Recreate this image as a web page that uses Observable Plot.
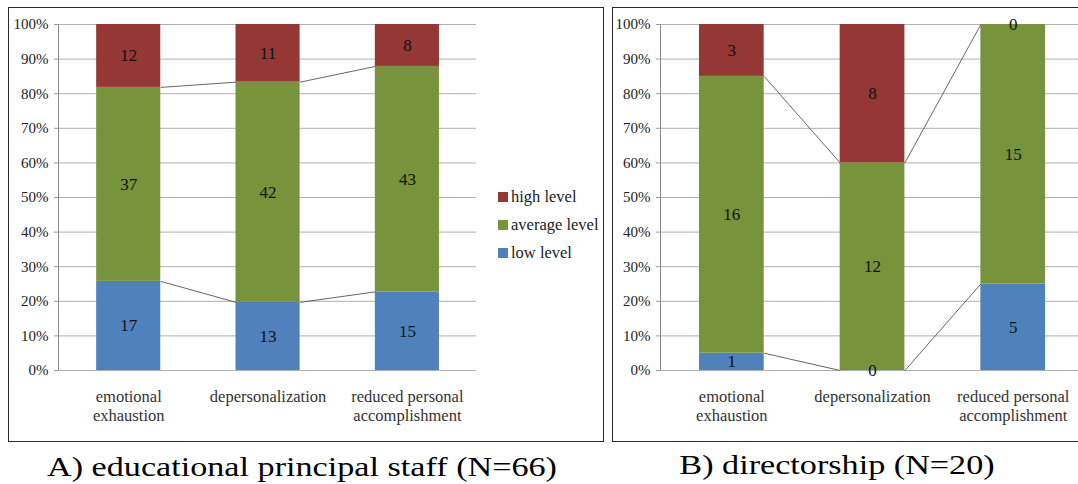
<!DOCTYPE html>
<html><head><meta charset="utf-8">
<script src="https://cdn.jsdelivr.net/npm/d3@7"></script>
<script src="https://cdn.jsdelivr.net/npm/@observablehq/plot@0.6"></script>
<style>
body{margin:0;background:#fff;}
#root{position:relative;width:1078px;height:484px;overflow:hidden;font-family:'Liberation Serif','Times New Roman',Tinos,'DejaVu Serif',serif;}
.frame{position:absolute;border:1px solid #2a2a2a;box-sizing:border-box;}
.svgwrap{position:absolute;}
.caption{position:absolute;font-size:28px;line-height:30px;color:#000;white-space:nowrap;text-align:center;transform:scaleX(1.22);transform-origin:50% 50%;}
.legend{position:absolute;font-size:16.5px;color:#222;}
.legend div{display:flex;align-items:center;height:28px;}
.legend span.sw{display:inline-block;width:10px;height:10px;margin-right:3px;}
svg text{font-family:'Liberation Serif','Times New Roman',Tinos,'DejaVu Serif',serif;}
</style></head><body><div id="root"></div>
<script>
const categories = ["emotional exhaustion", "depersonalization", "reduced personal accomplishment"];
const categoryLabels = ["emotional\nexhaustion", "depersonalization", "reduced personal\naccomplishment"];
const levels = ["low level", "average level", "high level"];
const levelColors = ["#4F81BD", "#77933C", "#953735"];
const staffLow = [17, 13, 15];
const staffAverage = [37, 42, 43];
const staffHigh = [12, 11, 8];
const directorLow = [1, 0, 5];
const directorAverage = [16, 12, 15];
const directorHigh = [3, 8, 0];
const yTicks = [0, 0.1, 0.2, 0.3, 0.4, 0.5, 0.6, 0.7, 0.8, 0.9, 1];
const captionA = "A) educational principal staff (N=66)";
const captionB = "B) directorship (N=20)";
const legendOrder = ["high level", "average level", "low level"];

const HALF = 0.23;
const FONT = "'Liberation Serif','Times New Roman',Tinos,'DejaVu Serif',serif";
const root = document.getElementById("root");

function buildRows(series) {
  const rows = [];
  categories.forEach((c, i) => {
    const total = series.reduce((s, arr) => s + arr[i], 0);
    let cum = 0;
    series.forEach((arr, k) => {
      const y1 = cum / total;
      cum += arr[i];
      rows.push({i, cat: c, level: levels[k], value: arr[i], y1, y2: cum / total});
    });
  });
  return rows;
}
function buildLinks(rows) {
  const links = [];
  for (let k = 0; k < 2; k++) {
    for (let i = 0; i < categories.length - 1; i++) {
      const a = rows.find(r => r.i === i && r.level === levels[k]);
      const b = rows.find(r => r.i === i + 1 && r.level === levels[k]);
      links.push({x1: i + HALF, y1: a.y2, x2: i + 1 - HALF, y2: b.y2});
    }
  }
  return links;
}

function panel(series, cfg) {
  const rows = buildRows(series);
  const links = buildLinks(rows);
  return Plot.plot({
    width: cfg.width, height: cfg.height,
    marginLeft: cfg.ml, marginRight: cfg.mr, marginTop: cfg.mt, marginBottom: cfg.mb,
    style: {fontFamily: FONT, background: "transparent", color: "#222"},
    x: {domain: cfg.xdomain, axis: null},
    y: {domain: [0, 1], axis: null},
    color: {domain: levels, range: levelColors},
    marks: [
      Plot.ruleY(yTicks, {stroke: "#b0b0b0", strokeWidth: 1}),
      Plot.axisY({ticks: yTicks, tickFormat: d => Math.round(d * 100) + "%", tickSize: 4, tickPadding: 6, fontSize: 15, stroke: "#999", color: "#222"}),
      Plot.ruleX([cfg.xdomain[0]], {stroke: "#8a8a8a"}),
      Plot.rect(rows, {x1: d => d.i - HALF, x2: d => d.i + HALF, y1: "y1", y2: "y2", fill: "level"}),
      Plot.link(links, {x1: "x1", y1: "y1", x2: "x2", y2: "y2", stroke: "#555", strokeWidth: 0.9}),
      Plot.text(rows, {x: "i", y: d => (d.y1 + d.y2) / 2, text: d => String(d.value), fontSize: 17, fill: "#111"}),
      Plot.axisX({ticks: [0, 1, 2], tickFormat: i => categoryLabels[i], tickSize: 0, tickPadding: 18, fontSize: 16.5, lineHeight: 1.15, color: "#333"})
    ]
  });
}

function place(el, x, y) {
  const w = document.createElement("div");
  w.className = "svgwrap";
  w.style.left = x + "px"; w.style.top = y + "px";
  w.appendChild(el);
  root.appendChild(w);
}

const f1 = document.createElement("div"); f1.className = "frame";
Object.assign(f1.style, {left: "8px", top: "7px", width: "596px", height: "435px"});
root.appendChild(f1);
const f2 = document.createElement("div"); f2.className = "frame";
Object.assign(f2.style, {left: "612px", top: "7px", width: "470px", height: "435px"});
root.appendChild(f2);

place(panel([staffLow, staffAverage, staffHigh], {width: 594, height: 432, ml: 49, mr: 127, mt: 16, mb: 70, xdomain: [-0.504, 2.496]}), 9, 8);
place(panel([directorLow, directorAverage, directorHigh], {width: 465, height: 432, ml: 47, mr: 0, mt: 16, mb: 70, xdomain: [-0.507, 2.464]}), 613, 8);

const lg = document.createElement("div"); lg.className = "legend";
Object.assign(lg.style, {left: "498px", top: "183px"});
legendOrder.forEach(l => {
  const row = document.createElement("div");
  const sw = document.createElement("span"); sw.className = "sw";
  sw.style.background = levelColors[levels.indexOf(l)];
  row.appendChild(sw);
  row.appendChild(document.createTextNode(l));
  lg.appendChild(row);
});
root.appendChild(lg);
const clip = document.createElement("div");
Object.assign(clip.style, {position: "absolute", left: "604px", top: "150px", width: "8px", height: "120px", background: "#fff"});
root.appendChild(clip);

const cA = document.createElement("div"); cA.className = "caption"; cA.textContent = captionA;
Object.assign(cA.style, {left: "0px", width: "604px", top: "452px"});
root.appendChild(cA);
const cB = document.createElement("div"); cB.className = "caption"; cB.textContent = captionB;
Object.assign(cB.style, {left: "612px", width: "450px", top: "450px"});
root.appendChild(cB);
</script></body></html>
